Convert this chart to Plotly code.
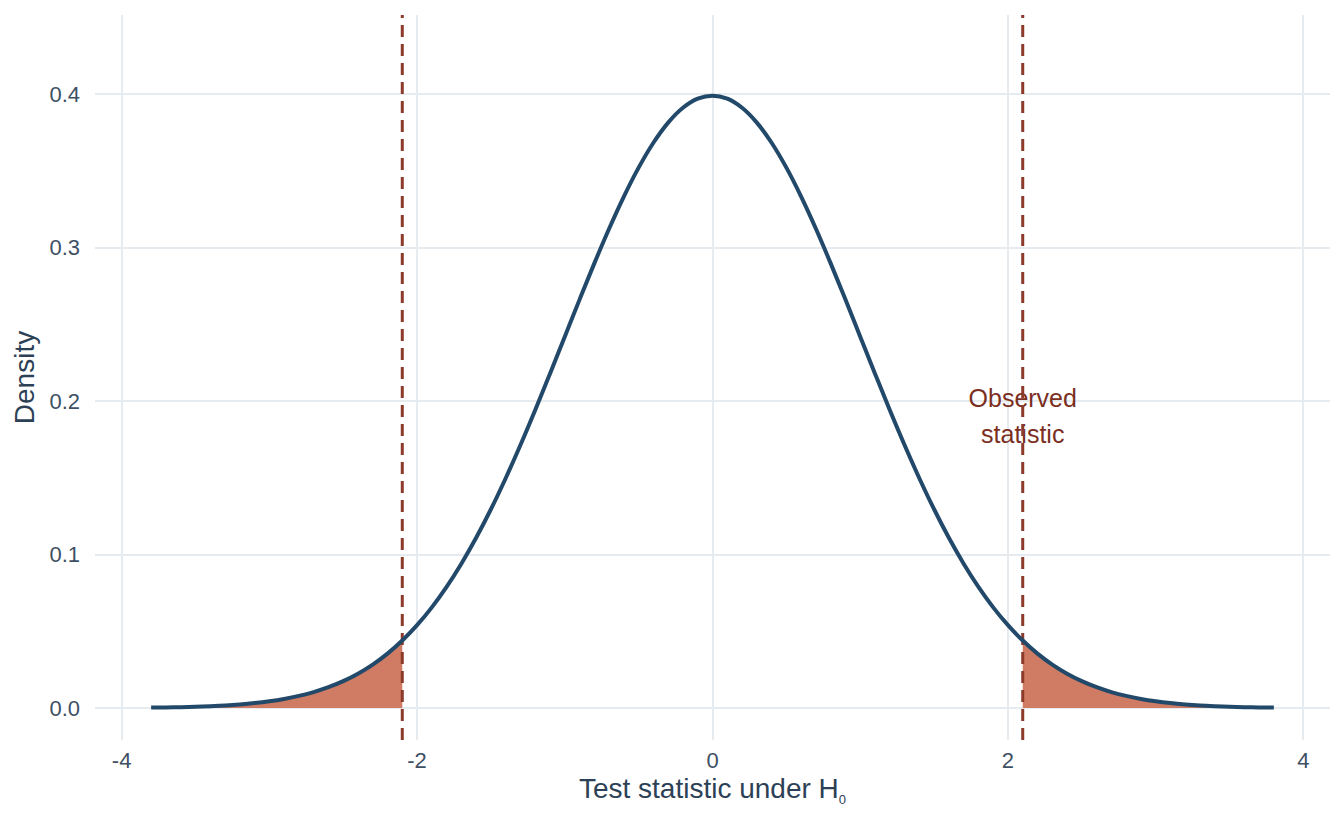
import plotly.graph_objects as go

# Density of the test statistic under H0, x from 0 to 3.8 step 0.1 (symmetric)
x_right = [0.0, 0.1, 0.2, 0.3, 0.4, 0.5, 0.6, 0.7, 0.8, 0.9, 1.0, 1.1, 1.2, 1.3, 1.4,
           1.5, 1.6, 1.7, 1.8, 1.9, 2.0, 2.1, 2.2, 2.3, 2.4, 2.5, 2.6, 2.7, 2.8, 2.9,
           3.0, 3.1, 3.2, 3.3, 3.4, 3.5, 3.6, 3.7, 3.8]
dens_right = [0.398942, 0.396953, 0.391043, 0.381388, 0.368270, 0.352065, 0.333225,
              0.312254, 0.289692, 0.266085, 0.241971, 0.217852, 0.194186, 0.171369,
              0.149727, 0.129518, 0.110921, 0.094049, 0.078950, 0.065616, 0.053991,
              0.043984, 0.035475, 0.028327, 0.022395, 0.017528, 0.013583, 0.010421,
              0.007915, 0.005953, 0.004432, 0.003267, 0.002384, 0.001723, 0.001232,
              0.000873, 0.000612, 0.000425, 0.000292]

observed_stat = 2.1
annot_lines = ["Observed", "statistic"]
annot_ys = [0.2000, 0.1766]

x_ticks = [-4, -2, 0, 2, 4]
y_ticks = [0.0, 0.1, 0.2, 0.3, 0.4]
y_tick_labels = ["0.0", "0.1", "0.2", "0.3", "0.4"]

# symmetric curve
xs = [-v for v in reversed(x_right[1:])] + x_right
ys = list(reversed(dens_right[1:])) + dens_right

left_x = [a for a in xs if a <= -observed_stat + 1e-9]
left_y = [b for a, b in zip(xs, ys) if a <= -observed_stat + 1e-9]
right_x = [a for a in xs if a >= observed_stat - 1e-9]
right_y = [b for a, b in zip(xs, ys) if a >= observed_stat - 1e-9]

CURVE = "#23496a"
FILL = "#d07c64"
DASH = "#8c3a2a"
TEXT = "#7b2f1f"
GRID = "#e6ebf0"
TICK = "#3e5064"
TITLE = "#2d4156"
FONT = "Liberation Sans, Arial, sans-serif"

yr = [-0.0208, 0.4515]
xr = [-4.18, 4.18]

fig = go.Figure()
for tx, ty in [(left_x, left_y), (right_x, right_y)]:
    fig.add_trace(go.Scatter(x=tx, y=ty, mode="lines", line=dict(width=0, color=FILL),
                             fill="tozeroy", fillcolor=FILL, hoverinfo="skip",
                             showlegend=False))
fig.add_trace(go.Scatter(x=[observed_stat] * len(annot_lines), y=annot_ys, mode="text",
                         text=annot_lines,
                         textfont=dict(family=FONT, size=25, color=TEXT),
                         textposition="middle center", showlegend=False,
                         hoverinfo="skip"))
for sx in [-observed_stat, observed_stat]:
    fig.add_trace(go.Scatter(x=[sx, sx], y=yr, mode="lines",
                             line=dict(color=DASH, width=3, dash="12px,7px"),
                             showlegend=False, hoverinfo="skip"))
fig.add_trace(go.Scatter(x=xs, y=ys, mode="lines",
                         line=dict(color=CURVE, width=4, shape="spline"),
                         showlegend=False))

fig.update_layout(
    width=1344, height=825,
    margin=dict(l=95, r=14, t=15, b=85),
    paper_bgcolor="white", plot_bgcolor="white",
    font=dict(family=FONT, color=TICK, size=22),
    xaxis=dict(range=xr, tickvals=x_ticks, ticktext=[str(t) for t in x_ticks],
               showgrid=True, gridcolor=GRID, gridwidth=2, zeroline=False,
               showline=False, ticks="", ticklabelstandoff=5,
               tickfont=dict(family=FONT, size=22, color=TICK),
               title=dict(text="Test statistic under H<sub><span style='font-size:13px'>0</span></sub>",
                          font=dict(family=FONT, size=28, color=TITLE), standoff=4)),
    yaxis=dict(range=yr, tickvals=y_ticks, ticktext=y_tick_labels,
               showgrid=True, gridcolor=GRID, gridwidth=2, zeroline=False,
               showline=False, ticks="", ticklabelstandoff=14,
               tickfont=dict(family=FONT, size=22, color=TICK),
               title=dict(text="Density", font=dict(family=FONT, size=28, color=TITLE),
                          standoff=6)),
)

fig.write_html("out.html", config={"displayModeBar": False},
               post_script="document.body.style.margin='0';document.body.style.padding='0';")
